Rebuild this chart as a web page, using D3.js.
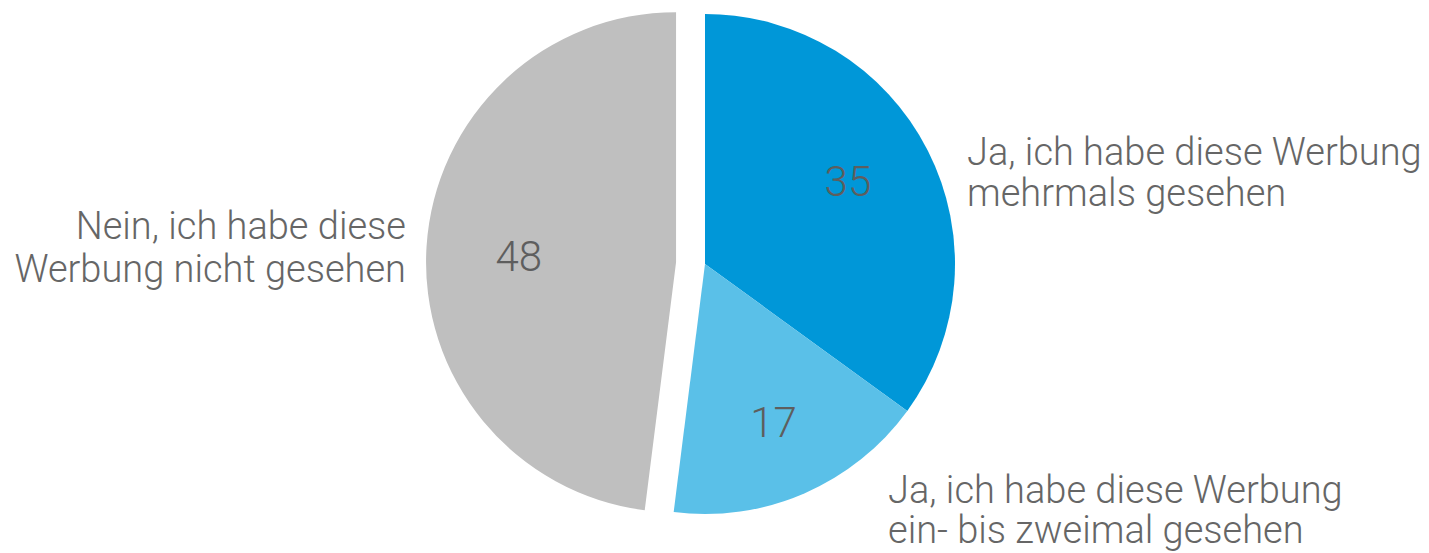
<!DOCTYPE html>
<html>
<head>
<meta charset="utf-8">
<script src="https://cdn.jsdelivr.net/npm/d3@7"></script>
<style>
  html, body { margin: 0; padding: 0; background: #fff; }
  svg text { font-family: Roboto, "Noto Sans", sans-serif; font-weight: 300; }
</style>
</head>
<body>
<svg id="chart" width="1429" height="553"></svg>
<script>
// Survey answers: has the respondent seen this ad?
const categories = [
  "Ja, ich habe diese Werbung mehrmals gesehen",
  "Ja, ich habe diese Werbung ein- bis zweimal gesehen",
  "Nein, ich habe diese Werbung nicht gesehen"
];
const values = [35, 17, 48];
const colors = ["#0097d8", "#5ac0e8", "#bfbfbf"];
// Label lines for each category, drawn beside the pie
const labelLines = [
  ["Ja, ich habe diese Werbung", "mehrmals gesehen"],
  ["Ja, ich habe diese Werbung", "ein- bis zweimal gesehen"],
  ["Nein, ich habe diese", "Werbung nicht gesehen"]
];
// Slices pulled out from the centre
const explode = [0, 0, 29];
// Placement of each value label: share of the radius, angular nudge in degrees
const valueRadius = [0.66, 0.69, 0.63];
const valueNudge = [-3, 0, -1.4];

const svg = d3.select("#chart");
const cx = 705, cy = 264, r = 250;

const pie = d3.pie().sort(null).value(d => d)(values);
const arc = d3.arc().innerRadius(0).outerRadius(r);

const g = svg.append("g").attr("transform", `translate(${cx},${cy})`);

const slices = g.selectAll("g.slice").data(pie).join("g")
  .attr("class", "slice")
  .attr("transform", (d, i) => {
    const mid = (d.startAngle + d.endAngle) / 2;
    const k = explode[i];
    return `translate(${Math.sin(mid) * k},${-Math.cos(mid) * k})`;
  });

slices.append("path")
  .attr("d", arc)
  .attr("fill", (d, i) => colors[i]);

slices.append("text")
  .attr("transform", (d, i) => {
    const a = (d.startAngle + d.endAngle) / 2 + valueNudge[i] * Math.PI / 180;
    const rr = r * valueRadius[i];
    return `translate(${Math.sin(a) * rr},${-Math.cos(a) * rr})`;
  })
  .attr("text-anchor", "middle")
  .attr("dominant-baseline", "central")
  .attr("font-size", 42)
  .attr("fill", "#5e5e5e")
  .text(d => d.data);

// Category labels
const labelPos = [
  { x: 967, y: 152, anchor: "start", lh: 41 },
  { x: 888, y: 490, anchor: "start", lh: 40 },
  { x: 406, y: 226, anchor: "end", lh: 43 }
];
labelLines.forEach((lines, i) => {
  const p = labelPos[i];
  const t = svg.append("text")
    .attr("text-anchor", p.anchor)
    .attr("font-size", 38)
    .attr("fill", "#666666");
  lines.forEach((s, j) => {
    t.append("tspan")
      .attr("x", p.x)
      .attr("y", p.y + j * p.lh)
      .attr("dominant-baseline", "central")
      .text(s);
  });
});
</script>
</body>
</html>
